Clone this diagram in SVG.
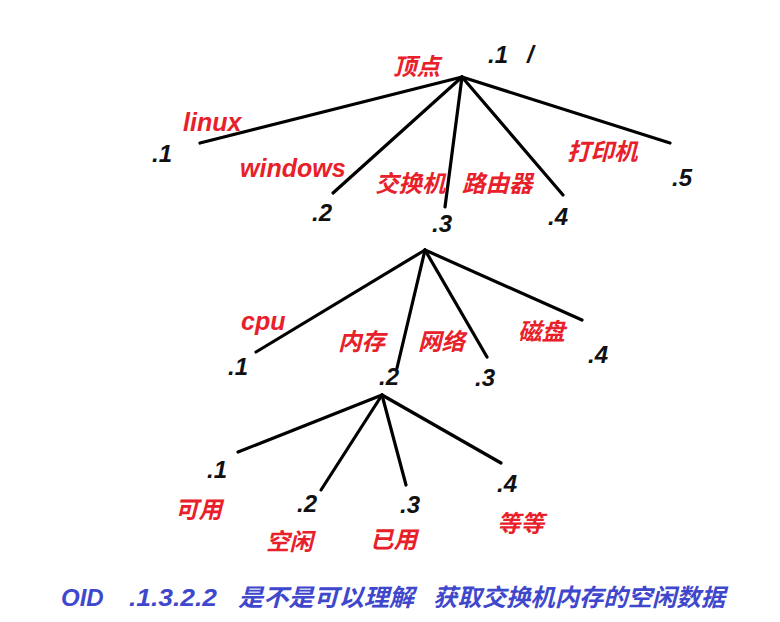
<svg xmlns="http://www.w3.org/2000/svg" width="780" height="622" viewBox="0 0 780 622">
<style>
.bg{fill:#ffffff}
.edge{stroke:#000;stroke-width:3.2;stroke-linecap:round;fill:none}
.lab{fill:#e8202a;font-family:"Liberation Sans","Noto Sans CJK SC",sans-serif;font-weight:bold;font-style:italic;font-size:23.5px}
.en{font-size:25px}
.oid{fill:#111;font-family:"Liberation Sans","Noto Sans CJK SC",sans-serif;font-weight:bold;font-style:italic;font-size:24px}
.note{fill:#3f48cc;font-family:"Liberation Sans","Noto Sans CJK SC",sans-serif;font-weight:bold;font-style:italic;font-size:24px}
</style>
<rect class="bg" x="0" y="0" width="780" height="622"/>
<g id="connectors">
<line class="edge" x1="462" y1="77" x2="200" y2="143"/>
<line class="edge" x1="462" y1="77" x2="333" y2="193"/>
<line class="edge" x1="462" y1="77" x2="445" y2="207"/>
<line class="edge" x1="462" y1="77" x2="563" y2="195"/>
<line class="edge" x1="462" y1="77" x2="670" y2="143"/>
<line class="edge" x1="425" y1="250" x2="256" y2="352"/>
<line class="edge" x1="425" y1="250" x2="397" y2="368"/>
<line class="edge" x1="425" y1="250" x2="487" y2="357"/>
<line class="edge" x1="425" y1="250" x2="582" y2="320"/>
<line class="edge" x1="382" y1="395" x2="238" y2="452"/>
<line class="edge" x1="382" y1="395" x2="321" y2="490"/>
<line class="edge" x1="382" y1="395" x2="406" y2="485"/>
<line class="edge" x1="382" y1="395" x2="501" y2="463"/>
</g>
<g id="node-root"><text class="lab" x="393" y="75">顶点</text><text class="oid" x="488" y="63">.1</text><text class="oid" x="527" y="63">/</text></g>
<g id="node-linux"><text class="lab en" x="183" y="131">linux</text><text class="oid" x="152" y="162">.1</text></g>
<g id="node-windows"><text class="lab en" x="240" y="177">windows</text><text class="oid" x="312" y="221">.2</text></g>
<g id="node-switch"><text class="lab" x="375" y="192">交换机</text><text class="oid" x="432" y="232">.3</text></g>
<g id="node-router"><text class="lab" x="462" y="192">路由器</text><text class="oid" x="548" y="225">.4</text></g>
<g id="node-printer"><text class="lab" x="567" y="160">打印机</text><text class="oid" x="672" y="186">.5</text></g>
<g id="node-cpu"><text class="lab en" x="241" y="330">cpu</text><text class="oid" x="228" y="375">.1</text></g>
<g id="node-memory"><text class="lab" x="338" y="350">内存</text><text class="oid" x="379" y="385">.2</text></g>
<g id="node-network"><text class="lab" x="418" y="350">网络</text><text class="oid" x="475" y="386">.3</text></g>
<g id="node-disk"><text class="lab" x="518" y="340">磁盘</text><text class="oid" x="588" y="363">.4</text></g>
<g id="node-avail"><text class="oid" x="207" y="478">.1</text><text class="lab" x="175" y="518">可用</text></g>
<g id="node-free"><text class="oid" x="297" y="512">.2</text><text class="lab" x="266" y="550">空闲</text></g>
<g id="node-used"><text class="oid" x="400" y="513">.3</text><text class="lab" x="370" y="548">已用</text></g>
<g id="node-etc"><text class="oid" x="497" y="492">.4</text><text class="lab" x="497" y="532">等等</text></g>
<text class="note" y="606" xml:space="preserve"><tspan x="61">OID</tspan><tspan x="129" textLength="88" lengthAdjust="spacingAndGlyphs">.1.3.2.2</tspan><tspan x="238" textLength="176" lengthAdjust="spacingAndGlyphs">是不是可以理解</tspan><tspan x="433" textLength="292" lengthAdjust="spacingAndGlyphs">获取交换机内存的空闲数据</tspan></text>
</svg>
